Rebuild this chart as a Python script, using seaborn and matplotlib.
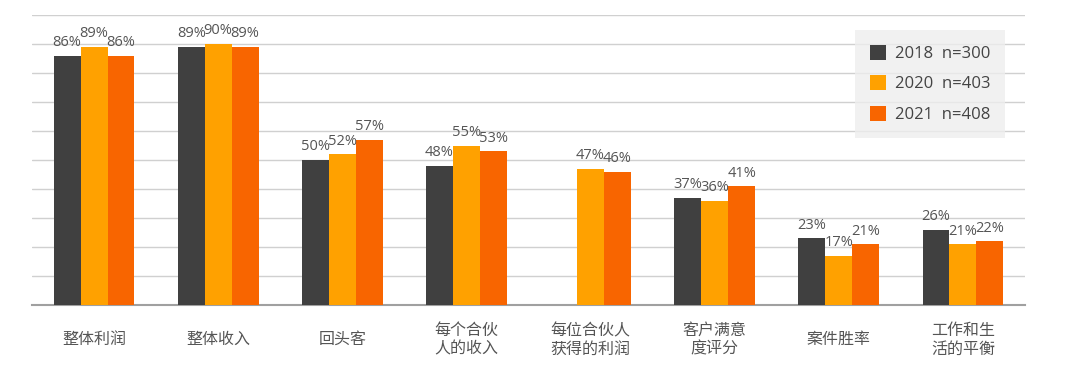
import numpy as np
import pandas as pd
import matplotlib
matplotlib.use('Agg')
import matplotlib.pyplot as plt
import seaborn as sns

categories = ['整体利润', '整体收入', '回头客', '每个合伙\n人的收入', '每位合伙人\n获得的利润',
              '客户满意\n度评分', '案件胜率', '工作和生\n活的平衡']
series = ['2018  n=300', '2020  n=403', '2021  n=408']
v2018 = [86, 89, 50, 48, np.nan, 37, 23, 26]
v2020 = [89, 90, 52, 55, 47, 36, 17, 21]
v2021 = [86, 89, 57, 53, 46, 41, 21, 22]
colors = ['#404040', '#FFA100', '#F86500']

df = pd.DataFrame({'cat': categories * 3,
                   'year': [series[0]] * 8 + [series[1]] * 8 + [series[2]] * 8,
                   'val': v2018 + v2020 + v2021}).dropna()

sns.set_style('white')
plt.rcParams['font.family'] = ['Open Sans', 'Noto Sans CJK SC', 'DejaVu Sans']

fig = plt.figure(figsize=(10.8, 3.75), dpi=100)
ax = fig.add_axes([32 / 1080, 70 / 375, 993 / 1080, 290 / 375])

sns.barplot(data=df, x='cat', y='val', hue='year', order=categories, hue_order=series,
            palette=colors, width=0.65, saturation=1, ax=ax, edgecolor='none', zorder=3)

for c in ax.containers:
    ax.bar_label(c, fmt='%d%%', padding=4, fontsize=10.5, color='#555555')

ax.set_ylim(0, 100)
ax.set_xlim(-0.5, 7.5)
ax.set_yticks(np.arange(0, 101, 10))
ax.set_yticklabels([])
ax.yaxis.grid(True, color='#d0d0d0', lw=1, zorder=0)
ax.tick_params(axis='y', length=0)
ax.tick_params(axis='x', length=0, pad=25)
for lab in ax.get_xticklabels():
    lab.set_va('center')
    lab.set_family(['Noto Sans CJK SC'])
    lab.set_fontsize(11.5)
    lab.set_color('#555555')
    lab.set_linespacing(1.1)
ax.set_xlabel('')
ax.set_ylabel('')
for s in ['top', 'left', 'right']:
    ax.spines[s].set_visible(False)
ax.spines['bottom'].set_color('#a0a0a0')
ax.spines['bottom'].set_linewidth(1.5)

leg = ax.legend(loc='upper right', bbox_to_anchor=(0.98, 0.949), borderaxespad=0,
                fontsize=12, frameon=True, fancybox=False, handlelength=1.0, handleheight=1.0,
                handletextpad=0.5, labelspacing=0.8, borderpad=0.9, labelcolor='#444444')
leg.get_frame().set_facecolor('#eeeeee')
leg.get_frame().set_edgecolor('none')

fig.savefig('out.png', dpi=100)
